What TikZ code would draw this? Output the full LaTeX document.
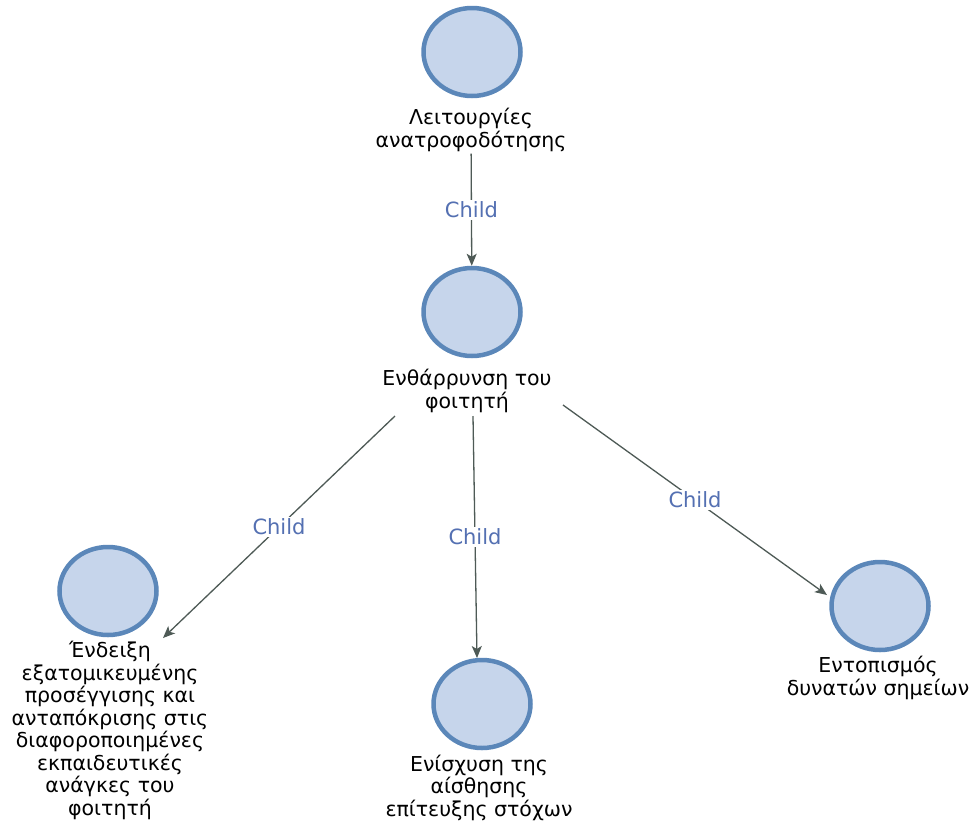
\documentclass[tikz,border=0pt]{standalone}
\usepackage{fontspec}
\setmainfont{DejaVu Sans}
\usetikzlibrary{shapes.geometric,arrows.meta}
\definecolor{nodefill}{HTML}{C6D5EB}
\definecolor{nodeborder}{HTML}{5B87B9}
\definecolor{edgecol}{HTML}{4E5A56}
\definecolor{childcol}{HTML}{5470B2}
\begin{document}
\begin{tikzpicture}[x=1pt,y=-1pt,
  topic/.style={ellipse, draw=nodeborder, fill=nodefill, line width=4.5pt,
    minimum width=97pt, minimum height=88pt, inner sep=0pt},
  lbl/.style={align=center, font=\fontsize{20.5}{22.5}\selectfont, inner sep=2pt, anchor=base},
  edge/.style={draw=edgecol, line width=1.3pt, -{Stealth[length=12pt,width=10pt,inset=3pt]}},
  childlbl/.style={midway, fill=white, text=childcol, font=\fontsize{21}{22}\selectfont, inner sep=2pt}]
\useasboundingbox[fill=white] (0,0) rectangle (974,828);
% nodes (label nodes: anchor at baseline of last line)
\node[topic] (cA) at (472,52) {};
\node[lbl] (lA) at (471,147) {Λειτουργίες\\ανατροφοδότησης};
\node[topic] (cB) at (472,312) {};
\node[lbl] (lB) at (467,408) {Ενθάρρυνση του\\φοιτητή};
\node[topic] (cL) at (108,591) {};
\node[lbl] (lL) at (110,815) {Ένδειξη\\εξατομικευμένης\\προσέγγισης και\\ανταπόκρισης στις\\διαφοροποιημένες\\εκπαιδευτικές\\ανάγκες του\\φοιτητή};
\node[topic] (cM) at (482,704) {};
\node[lbl] (lM) at (479,816) {Ενίσχυση της\\αίσθησης\\επίτευξης στόχων};
\node[topic] (cR) at (880,606) {};
\node[lbl] (lR) at (878,695) {Εντοπισμός\\δυνατών σημείων};
% connector ends
\coordinate (sL) at (395,416);
\coordinate (tL) at (163,638);
\coordinate (sM) at (473,416);
\coordinate (tM) at (477,658);
\coordinate (sR) at (563,405);
\coordinate (tR) at (827,595);
% connectors
\draw[edge] (lA) -- node[childlbl]{Child} (cB);
\draw[edge] (sL) -- node[childlbl]{Child} (tL);
\draw[edge] (sM) -- node[childlbl]{Child} (tM);
\draw[edge] (sR) -- node[childlbl]{Child} (tR);
\end{tikzpicture}
\end{document}
